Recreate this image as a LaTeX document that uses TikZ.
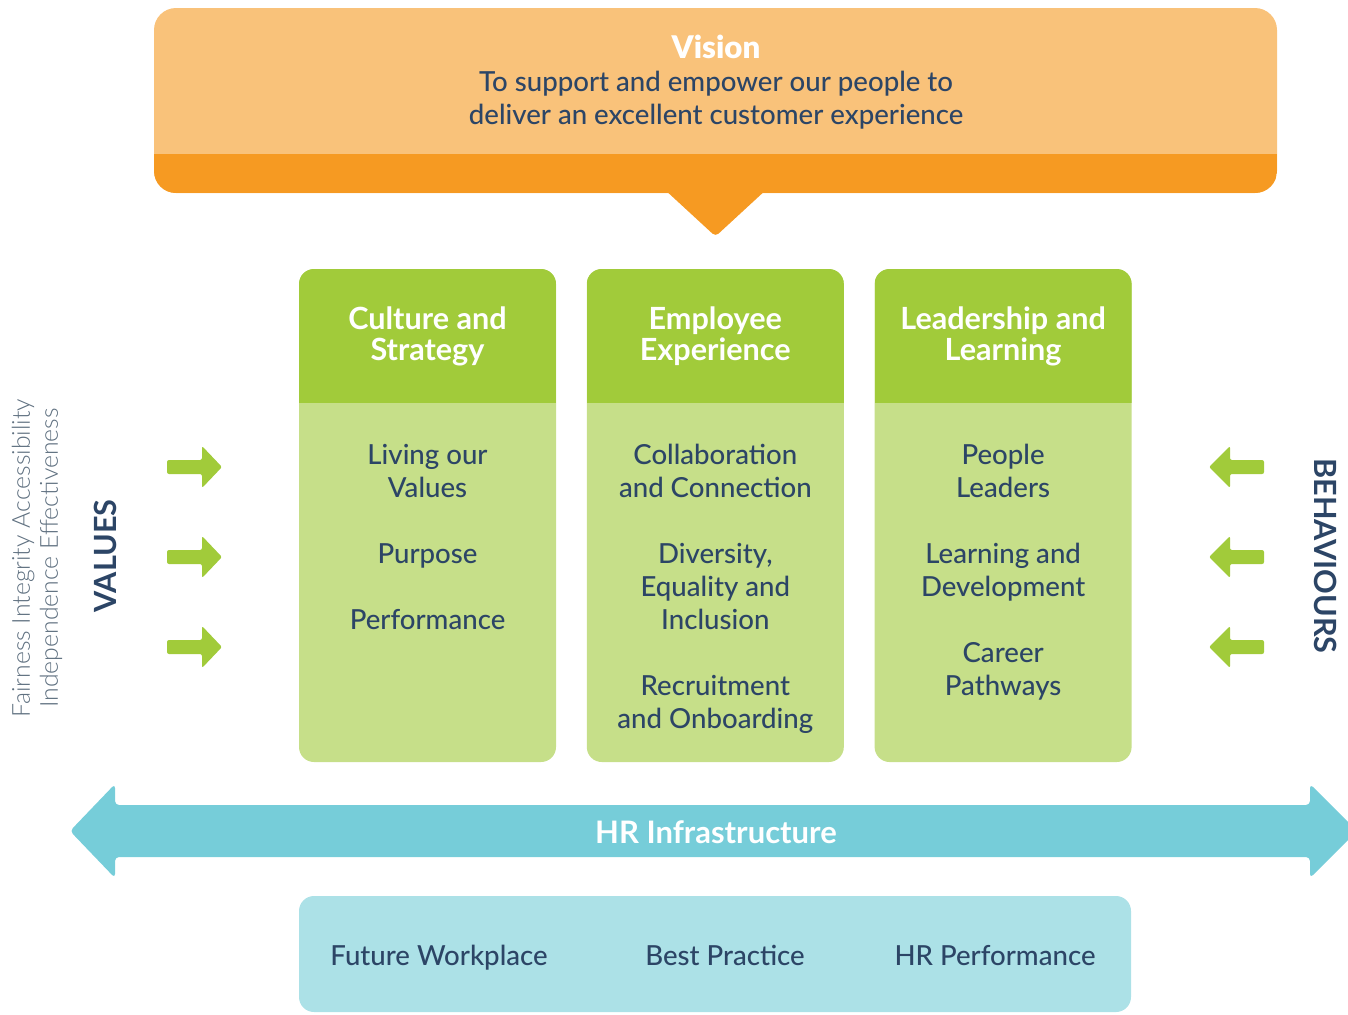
\documentclass[tikz,border=0pt]{standalone}
\usepackage{fontspec}
\setmainfont{Lato}
\IfFontExistsTF{Lato Light}{\newfontfamily\lightfont{Lato Light}}{\newfontfamily\lightfont{Lato}}
\IfFontExistsTF{Lato Medium}{\newfontfamily\mediumfont{Lato Medium}}{\newfontfamily\mediumfont{Lato}}
\usepackage{xcolor}
\usetikzlibrary{positioning}

\definecolor{visionlight}{HTML}{F9C27A}
\definecolor{visiondark}{HTML}{F69A22}
\definecolor{leafdark}{HTML}{A1CB3A}
\definecolor{leaflight}{HTML}{C6DF89}
\definecolor{hrteal}{HTML}{76CDD9}
\definecolor{hrpale}{HTML}{ACE1E7}
\definecolor{navy}{HTML}{2C4566}
\definecolor{slate}{HTML}{5F7080}

\tikzset{
  pillar/.style={rounded corners=7.5pt, fill=leaflight, minimum width=128.5pt,
    minimum height=246.5pt, inner sep=0pt,
    path picture={\fill[leafdark, sharp corners] (path picture bounding box.north west)
      rectangle ([yshift=-67pt]path picture bounding box.north east);}},
  headtext/.style={text=white, font=\bfseries\fontsize{15.3}{15.5}\selectfont, align=center},
  itemtext/.style={text=navy, font=\mediumfont\fontsize{13.8}{16.5}\selectfont, align=center,
    anchor=north, inner sep=0pt},
  basetext/.style={text=navy, font=\mediumfont\fontsize{13.8}{16.5}\selectfont, anchor=base},
  sidetext/.style={text=navy, font=\bfseries\fontsize{15.3}{18}\selectfont},
}

\begin{document}
\begin{tikzpicture}[x=0.5pt, y=-0.5pt]
\useasboundingbox (0,0) rectangle (1348,1014);

% Vision banner
\node[rounded corners=11pt, fill=visionlight, minimum width=561.5pt, minimum height=92.5pt,
  inner sep=0pt,
  path picture={\fill[visiondark, sharp corners] (path picture bounding box.south west)
    rectangle ([yshift=19.5pt]path picture bounding box.south east);}] (banner) at (715.5,100.5) {};
\fill[visiondark, rounded corners=2pt] ([xshift=-25.5pt, yshift=2pt]banner.south)
  -- ([xshift=25.5pt, yshift=2pt]banner.south) -- ([yshift=-21.5pt]banner.south) -- cycle;
\node[align=center, text=navy, font=\mediumfont\fontsize{13.8}{16.5}\selectfont] (vision) at (716,82)
  {{\color{white}\bfseries\fontsize{15.6}{17}\selectfont Vision}\\To support and empower our people to\\deliver an excellent customer experience};

% Pillars
\node[pillar] (culture) at (427.5,515.5) {};
\node[pillar, right=15pt of culture] (employee) {};
\node[pillar, right=15pt of employee] (leadership) {};

\node[headtext] (culturehead) at ([yshift=-34pt]culture.north) {Culture and\\Strategy};
\node[headtext] (employeehead) at ([yshift=-34pt]employee.north) {Employee\\Experience};
\node[headtext] (leadershiphead) at ([yshift=-34pt]leadership.north) {Leadership and\\Learning};

\node[itemtext] (cultureitems) at ([yshift=-87.5pt]culture.north)
  {Living our\\Values\\[16.5pt]Purpose\\[16.5pt]Performance};
\node[itemtext] (employeeitems) at ([yshift=-87.5pt]employee.north)
  {Collaboration\\and Connection\\[16.5pt]Diversity,\\Equality and\\Inclusion\\[16.5pt]Recruitment\\and Onboarding};
\node[itemtext] (leadershipitems) at ([yshift=-87.5pt]leadership.north)
  {People\\Leaders\\[16.5pt]Learning and\\Development\\[16.5pt]Career\\Pathways};

% Values in, behaviours out
\node[rotate=90, align=center, text=slate, font=\lightfont\fontsize{12.4}{14}\selectfont] (valuelist)
  at (37,558) {Fairness Integrity Accessibility\\Independence Effectiveness};
\node[sidetext, rotate=90] (values) at (105,556) {VALUES};
\node[sidetext, rotate=-90] (behaviours) at (1326,556) {BEHAVIOURS};

\foreach \y in {467,557,647} {
  \fill[leafdark, rounded corners=1pt] (167,\y-7) -- (202,\y-7) -- (202,\y-21) -- (222,\y)
    -- (202,\y+21) -- (202,\y+7) -- (167,\y+7) -- cycle;
  \fill[leafdark, rounded corners=1pt] (1264,\y-7) -- (1230,\y-7) -- (1230,\y-21) -- (1209,\y)
    -- (1230,\y+21) -- (1230,\y+7) -- (1264,\y+7) -- cycle;
}

% HR infrastructure
\fill[hrteal, rounded corners=2pt] (70,831) -- (115,784) -- (115,805) -- (1310,805) -- (1310,784)
  -- (1357,831) -- (1310,878) -- (1310,857) -- (115,857) -- (115,878) -- cycle;
\node[text=white, font=\bfseries\fontsize{15.5}{16.5}\selectfont] (hrinfra) at (716,832) {HR Infrastructure};

\node[rounded corners=7.5pt, fill=hrpale, minimum width=416pt, minimum height=58pt,
  inner sep=0pt] (base) at (715,954) {};
\node[basetext] (workplace) at (439,965) {Future Workplace};
\node[basetext] (practice) at (725,965) {Best Practice};
\node[basetext] (hrperf) at (995,965) {HR Performance};
\end{tikzpicture}
\end{document}
